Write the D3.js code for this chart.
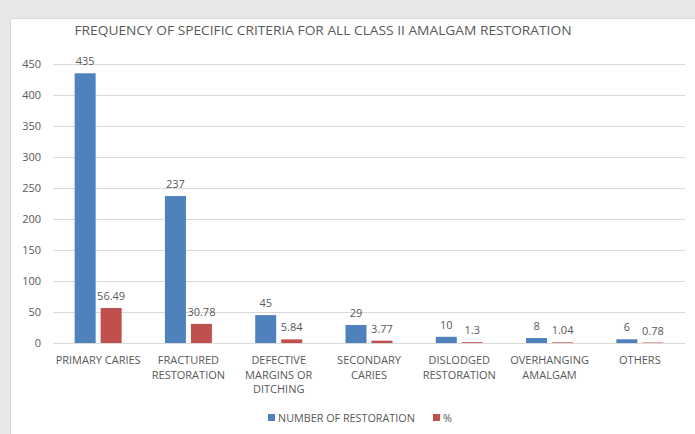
<!DOCTYPE html>
<html>
<head>
<script src="https://d3js.org/d3.v7.min.js"></script>
<style>
  body, html { margin: 0; padding: 0; background: #e7e7e8; overflow: hidden; }
  text { font-family: "Open Sans", "Noto Sans", sans-serif; fill: #595959; }
</style>
</head>
<body>
<div id="chart"></div>
<script>
const categories = [
  ["PRIMARY CARIES"],
  ["FRACTURED", "RESTORATION"],
  ["DEFECTIVE", "MARGINS OR", "DITCHING"],
  ["SECONDARY", "CARIES"],
  ["DISLODGED", "RESTORATION"],
  ["OVERHANGING", "AMALGAM"],
  ["OTHERS"]
];
const numbers = [435, 237, 45, 29, 10, 8, 6];
const percents = [56.49, 30.78, 5.84, 3.77, 1.3, 1.04, 0.78];
const seriesNames = ["NUMBER OF RESTORATION", "%"];
const colors = ["#4f81bd", "#c0504d"];
const yTicks = [0, 50, 100, 150, 200, 250, 300, 350, 400, 450];

const width = 695, height = 434;
const svg = d3.select("#chart").append("svg")
  .attr("width", width).attr("height", height);

// white panel
svg.append("rect")
  .attr("x", 10.5).attr("y", 18.5)
  .attr("width", width).attr("height", height)
  .attr("fill", "#fff").attr("stroke", "#d9d9d9");

const plotL = 53, plotR = 685, plotT = 64, plotB = 343;

const x = d3.scaleBand().domain(d3.range(categories.length)).range([plotL, plotR]);
const y = d3.scaleLinear().domain([0, 450]).range([plotB, plotT]);

// gridlines
svg.append("g").selectAll("line").data(yTicks).join("line")
  .attr("x1", plotL).attr("x2", plotR)
  .attr("y1", d => Math.round(y(d)) + 0.5).attr("y2", d => Math.round(y(d)) + 0.5)
  .attr("stroke", "#d9d9d9");

// y labels
svg.append("g").selectAll("text").data(yTicks).join("text")
  .attr("x", 41).attr("y", d => y(d) + 4)
  .attr("text-anchor", "end").attr("font-size", 11)
  .text(d => d);

const barW = 21, gap = 5;
const series = [numbers, percents];
series.forEach((vals, s) => {
  const offset = s === 0 ? -(barW + gap / 2) : gap / 2;
  const g = svg.append("g");
  g.selectAll("rect").data(vals).join("rect")
    .attr("x", (d, i) => x(i) + x.bandwidth() / 2 + offset)
    .attr("y", d => y(d))
    .attr("width", barW)
    .attr("height", d => plotB - y(d))
    .attr("fill", colors[s]);
  g.selectAll("text").data(vals).join("text")
    .attr("x", (d, i) => x(i) + x.bandwidth() / 2 + offset + barW / 2)
    .attr("y", d => y(d) - 8)
    .attr("text-anchor", "middle").attr("font-size", 11)
    .text(d => d);
});

// x axis line
svg.append("line").attr("x1", plotL).attr("x2", plotR)
  .attr("y1", plotB + 0.5).attr("y2", plotB + 0.5).attr("stroke", "#d9d9d9");

// category labels
const cat = svg.append("g").selectAll("text").data(categories).join("text")
  .attr("text-anchor", "middle").attr("font-size", 11);
cat.each(function(lines, i) {
  d3.select(this).selectAll("tspan").data(lines).join("tspan")
    .attr("x", x(i) + x.bandwidth() / 2)
    .attr("y", (d, j) => 364 + j * 14.5)
    .text(d => d);
});

// title
svg.append("text").attr("x", 323).attr("y", 35)
  .attr("text-anchor", "middle").attr("font-size", 13.5)
  .attr("textLength", 497).attr("lengthAdjust", "spacingAndGlyphs")
  .text("FREQUENCY OF SPECIFIC CRITERIA FOR ALL CLASS II AMALGAM RESTORATION");

// legend
const legendX = [268, 433];
seriesNames.forEach((n, s) => {
  svg.append("rect").attr("x", legendX[s]).attr("y", 414)
    .attr("width", 7).attr("height", 7).attr("fill", colors[s]);
  svg.append("text").attr("x", legendX[s] + 10).attr("y", 421.5)
    .attr("font-size", 10.8).text(n);
});
</script>
</body>
</html>
